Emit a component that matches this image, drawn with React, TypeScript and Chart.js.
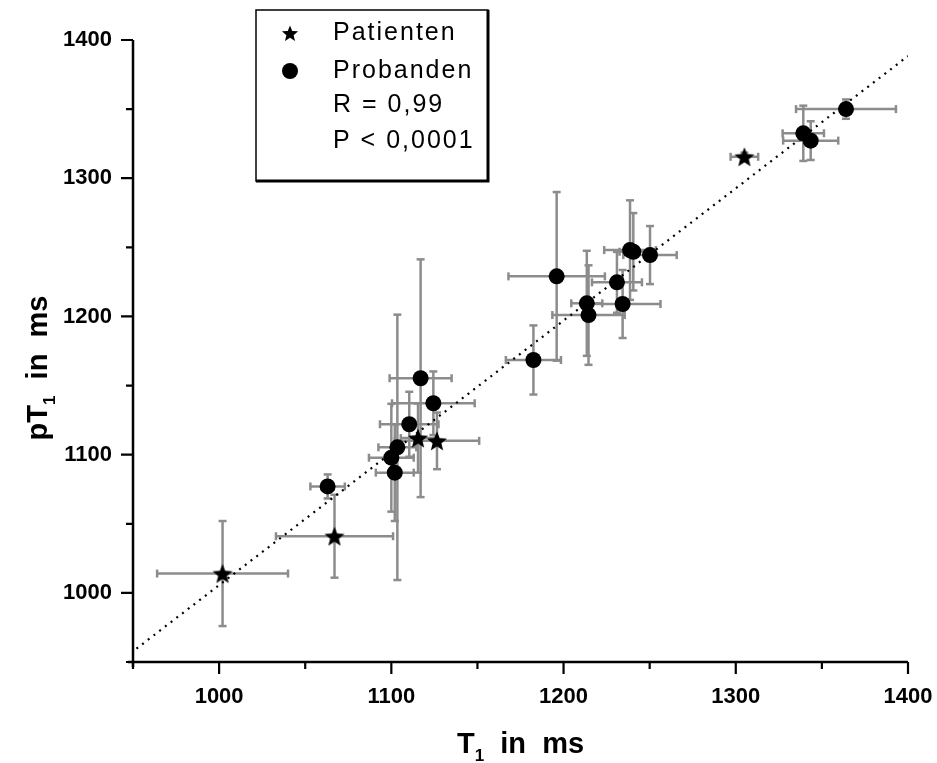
import React, { useEffect, useRef } from 'react';
import { Chart, registerables } from 'chart.js';

Chart.register(...registerables);

// ---- Data ----
const patientX = [1002, 1067, 1115.5, 1126.5, 1305];
const patientY = [1014, 1041, 1112, 1110, 1315.5];
const patientXErr = [38, 34, 10, 24.5, 8];
const patientYErr = [38, 30, 25, 20.5, 3];

const probandX = [1063, 1100, 1102, 1103.5, 1110.4, 1117, 1124.4, 1182.5, 1196, 1213.5, 1214.5, 1231, 1234.3, 1238.6, 1240.5, 1250.2, 1339.2, 1343.5, 1364];
const probandY = [1077, 1097.8, 1087, 1105.3, 1122, 1155.3, 1137.2, 1168.5, 1229, 1209.5, 1201, 1224.7, 1209, 1248, 1246.8, 1244.4, 1332.5, 1327.2, 1350];
const probandXErr = [10, 13, 11, 11, 17, 18, 24, 16, 28, 9, 21, 14.5, 22, 15, 8, 15.5, 12, 16, 29];
const probandYErr = [8.7, 39, 35, 96, 23.5, 86, 23, 25, 61, 38, 36, 22, 24.6, 36, 28, 21, 20, 14, 7];

const fitSlope = 0.957;
const fitIntercept = 48.6;
const fitXRange = [952, 1400];

const axisMin = 950;
const axisMax = 1400;
const tickStep = 50;
const labelStep = 100;

const legendLabels = ['Patienten', 'Probanden'];
const statLabels = ['R = 0,99', 'P < 0,0001'];

const FONT = '"Liberation Sans", Arial, sans-serif';

function starPath(g: CanvasRenderingContext2D, cx: number, cy: number, R: number, r: number) {
  g.beginPath();
  for (let i = 0; i < 10; i++) {
    const a = -Math.PI / 2 + (i * Math.PI) / 5;
    const rad = i % 2 === 0 ? R : r;
    const px = cx + rad * Math.cos(a);
    const py = cy + rad * Math.sin(a);
    if (i === 0) g.moveTo(px, py);
    else g.lineTo(px, py);
  }
  g.closePath();
}

function makeStar(size: number, R: number, r: number) {
  const c = document.createElement('canvas');
  c.width = size;
  c.height = size;
  const g = c.getContext('2d')!;
  starPath(g, size / 2, size / 2 + 1, R, r);
  g.fillStyle = '#000';
  g.fill();
  return c;
}

const errorBarPlugin = {
  id: 'errorBars',
  beforeDatasetsDraw(chart: any) {
    const { ctx, scales } = chart;
    const x = scales.x;
    const y = scales.y;
    const groups = [
      [patientX, patientY, patientXErr, patientYErr],
      [probandX, probandY, probandXErr, probandYErr],
    ];
    const cap = 4;
    ctx.save();
    ctx.strokeStyle = '#8c8c8c';
    ctx.lineWidth = 2.5;
    const line = (a: number, b: number, c: number, d: number) => {
      ctx.beginPath();
      ctx.moveTo(a, b);
      ctx.lineTo(c, d);
      ctx.stroke();
    };
    for (const [xs, ys, xe, ye] of groups) {
      for (let i = 0; i < xs.length; i++) {
        const px = x.getPixelForValue(xs[i]);
        const py = y.getPixelForValue(ys[i]);
        const xl = x.getPixelForValue(xs[i] - xe[i]);
        const xr = x.getPixelForValue(xs[i] + xe[i]);
        const yt = y.getPixelForValue(ys[i] + ye[i]);
        const yb = y.getPixelForValue(ys[i] - ye[i]);
        line(xl, py, xr, py);
        line(xl, py - cap, xl, py + cap);
        line(xr, py - cap, xr, py + cap);
        line(px, yt, px, yb);
        line(px - cap, yt, px + cap, yt);
        line(px - cap, yb, px + cap, yb);
      }
    }
    ctx.restore();
  },
};

const axesPlugin = {
  id: 'axesDecor',
  afterDraw(chart: any) {
    const { ctx, chartArea, scales } = chart;
    const x = scales.x;
    const y = scales.y;
    ctx.save();
    ctx.strokeStyle = '#000';
    ctx.lineWidth = 2.5;
    // axis lines
    ctx.beginPath();
    ctx.moveTo(chartArea.left, chartArea.top);
    ctx.lineTo(chartArea.left, chartArea.bottom + 5);
    ctx.moveTo(chartArea.left - 5, chartArea.bottom);
    ctx.lineTo(chartArea.right, chartArea.bottom);
    ctx.stroke();
    // ticks
    ctx.lineWidth = 2.2;
    for (let v = axisMin; v <= axisMax; v += tickStep) {
      const major = v % labelStep === 0;
      const len = major ? 12 : 7;
      const px = x.getPixelForValue(v);
      const py = y.getPixelForValue(v);
      ctx.beginPath();
      ctx.moveTo(px, chartArea.bottom);
      ctx.lineTo(px, chartArea.bottom + len);
      ctx.moveTo(chartArea.left, py);
      ctx.lineTo(chartArea.left - len, py);
      ctx.stroke();
    }
    // axis titles
    ctx.fillStyle = '#000';
    ctx.textBaseline = 'alphabetic';
    const big = `bold 29px ${FONT}`;
    const small = `bold 17px ${FONT}`;
    const drawTitle = (pre: string, post: string, cx: number, base: number) => {
      ctx.font = big;
      const w1 = ctx.measureText(pre).width;
      const w3 = ctx.measureText(post).width;
      ctx.font = small;
      const w2 = ctx.measureText('1').width;
      let sx = cx - (w1 + w2 + w3) / 2;
      ctx.font = big;
      ctx.fillText(pre, sx, base);
      sx += w1;
      ctx.font = small;
      ctx.fillText('1', sx, base + 8);
      sx += w2;
      ctx.font = big;
      ctx.fillText(post, sx, base);
    };
    drawTitle('T', '  in  ms', (chartArea.left + chartArea.right) / 2, 753);
    ctx.save();
    ctx.translate(47, 368);
    ctx.rotate(-Math.PI / 2);
    drawTitle('pT', '  in  ms', 0, 0);
    ctx.restore();

    // legend box
    const bx = 256, by = 10, bw = 232, bh = 171;
    ctx.fillStyle = '#fff';
    ctx.fillRect(bx, by, bw, bh);
    ctx.lineWidth = 1.5;
    ctx.strokeRect(bx, by, bw, bh);
    ctx.lineWidth = 3;
    ctx.beginPath();
    ctx.moveTo(bx + bw, by);
    ctx.lineTo(bx + bw, by + bh);
    ctx.lineTo(bx, by + bh);
    ctx.stroke();

    ctx.fillStyle = '#000';
    starPath(ctx, 290, 34, 8.5, 3.8);
    ctx.fill();
    ctx.beginPath();
    ctx.arc(290, 71, 8, 0, Math.PI * 2);
    ctx.fill();
    ctx.font = `25px ${FONT}`;
    (ctx as any).letterSpacing = '2px';
    ctx.textBaseline = 'middle';
    ctx.textAlign = 'left';
    ctx.fillText(legendLabels[0], 333, 33);
    ctx.fillText(legendLabels[1], 333, 71);
    ctx.fillText(statLabels[0], 333, 105);
    ctx.fillText(statLabels[1], 333, 141);
    (ctx as any).letterSpacing = '0px';
    ctx.restore();
  },
};

export default function App() {
  const ref = useRef<HTMLCanvasElement | null>(null);

  useEffect(() => {
    if (!ref.current) return;
    const star = makeStar(24, 10.5, 4.6);
    const tickFont = { family: FONT, size: 22, weight: 'bold' as const };
    const chart = new Chart(ref.current, {
      type: 'scatter',
      data: {
        datasets: [
          {
            label: legendLabels[0],
            data: patientX.map((v, i) => ({ x: v, y: patientY[i] })),
            pointStyle: star as any,
            pointRadius: 10,
            backgroundColor: '#000',
            borderColor: '#000',
          },
          {
            label: legendLabels[1],
            data: probandX.map((v, i) => ({ x: v, y: probandY[i] })),
            pointStyle: 'circle',
            pointRadius: 8,
            borderWidth: 0,
            backgroundColor: '#000',
            borderColor: '#000',
          },
          {
            type: 'line' as const,
            label: 'fit',
            data: fitXRange.map((v) => ({ x: v, y: fitSlope * v + fitIntercept })),
            borderColor: '#000',
            borderWidth: 2.2,
            borderDash: [2, 5.2],
            pointRadius: 0,
            fill: false,
          } as any,
        ],
      },
      options: {
        animation: false,
        responsive: false,
        layout: { padding: { top: 40, right: 29, left: 0, bottom: 0 } },
        plugins: { legend: { display: false }, tooltip: { enabled: false } },
        scales: {
          x: {
            type: 'linear',
            min: axisMin,
            max: axisMax,
            border: { display: false },
            grid: { display: true, drawOnChartArea: false, drawTicks: true, tickLength: 12, color: 'rgba(0,0,0,0)' },
            ticks: {
              stepSize: tickStep,
              autoSkip: false,
              maxRotation: 0,
              padding: 10,
              color: '#000',
              font: tickFont,
              callback: (v: any) => (Number(v) % labelStep === 0 ? String(v) : ''),
            },
            afterFit: (s: any) => {
              s.height = 101;
              s.paddingLeft = 0;
              s.paddingRight = 0;
            },
          },
          y: {
            type: 'linear',
            min: axisMin,
            max: axisMax,
            border: { display: false },
            grid: { display: true, drawOnChartArea: false, drawTicks: true, tickLength: 12, color: 'rgba(0,0,0,0)' },
            ticks: {
              stepSize: tickStep,
              autoSkip: false,
              padding: 9,
              color: '#000',
              font: tickFont,
              callback: (v: any) => (Number(v) % labelStep === 0 ? String(v) : ''),
            },
            afterFit: (s: any) => {
              s.width = 133;
              s.paddingTop = 0;
              s.paddingBottom = 0;
            },
          },
        },
      },
      plugins: [errorBarPlugin, axesPlugin],
    });
    return () => chart.destroy();
  }, []);

  return (
    <div style={{ position: 'absolute', left: 0, top: 0, width: 937, height: 763, background: '#fff' }}>
      <canvas ref={ref} width={937} height={763} style={{ display: 'block' }} />
    </div>
  );
}
